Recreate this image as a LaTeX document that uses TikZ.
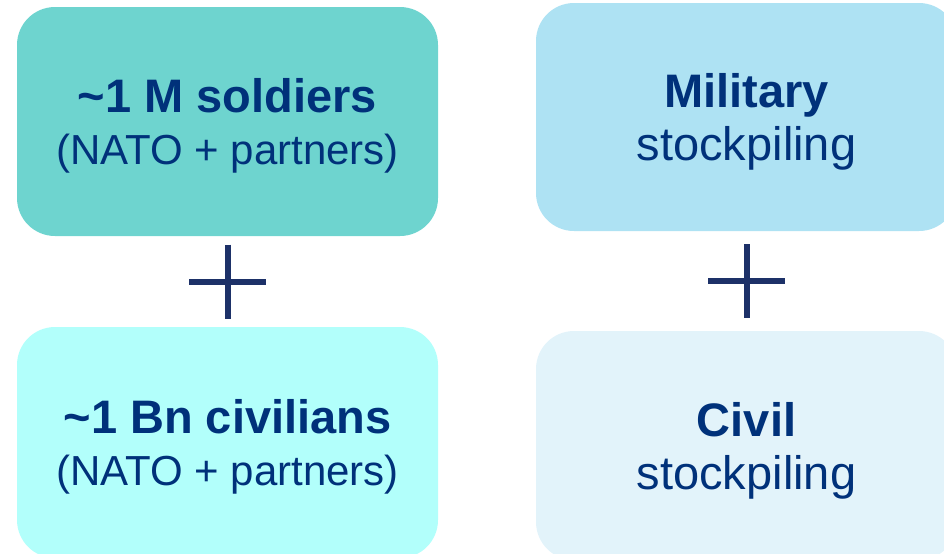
\documentclass[tikz,border=0pt]{standalone}
\usepackage{fontspec}
\setmainfont{Liberation Sans}
\definecolor{navy}{HTML}{00317A}
\definecolor{plusblue}{HTML}{1D3168}
\definecolor{teal1}{HTML}{6ED4CF}
\definecolor{teal2}{HTML}{B2FFFB}
\definecolor{sky1}{HTML}{AEE2F3}
\definecolor{sky2}{HTML}{E2F3FA}
\begin{document}
\begin{tikzpicture}[x=0.5pt,y=-0.5pt,
	box/.style={rounded corners=19pt,minimum width=210.5pt,align=center,text=navy,inner sep=0pt,text depth=0pt},
	people/.style={box,font=\fontsize{21}{26}\selectfont},
	stock/.style={box,font=\fontsize{23.5}{26.5}\selectfont},
	plus/.style={draw=plusblue,line width=3pt}]
	\clip (0,0) rectangle (944,553);
	\node[people,fill=teal1,minimum height=114.5pt] (soldiers) at (227.5,121.5)
		{{\bfseries\fontsize{23.5}{26}\selectfont\textasciitilde1 M soldiers}\\(NATO + partners)};
	\node[people,fill=teal2,minimum height=115.5pt] (civilians) at (227.5,442.5)
		{{\bfseries\fontsize{23.5}{26}\selectfont\textasciitilde1 Bn civilians}\\(NATO + partners)};
	\node[stock,fill=sky1,minimum height=114pt] (military) at (746.5,117)
		{\textbf{Military}\\stockpiling};
	\node[stock,fill=sky2,minimum height=114.5pt] (civil) at (746.5,445.5)
		{\textbf{Civil}\\stockpiling};
	\path (soldiers) -- (civilians) coordinate[pos=0.5] (lplus);
	\path (military) -- (civil) coordinate[pos=0.5] (rplus);
	\draw[plus] (lplus) ++(0,-37) -- ++(0,74) (lplus) ++(-38.5,0) -- ++(77,0);
	\draw[plus] (rplus) ++(0,-37) -- ++(0,74) (rplus) ++(-38.5,0) -- ++(77,0);
\end{tikzpicture}
\end{document}
